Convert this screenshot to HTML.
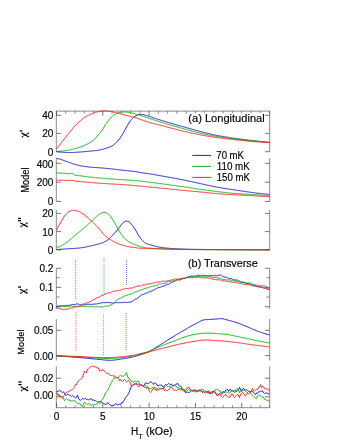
<!DOCTYPE html>
<html><head><meta charset="utf-8"><title>chart</title>
<style>html,body{margin:0;padding:0;background:#fff;}body{width:340px;height:440px;overflow:hidden;font-family:"Liberation Sans",sans-serif;}svg{display:block;position:absolute;left:0;top:0;}</style>
</head><body>
<svg width="340" height="440" viewBox="0 0 340 440">
<rect width="340" height="440" fill="#fff"/>
<path d="M56.40,111.05 L56.40,151.70 M269.60,111.05 L269.60,151.70 M56.40,158.30 L56.40,201.40 M269.60,158.30 L269.60,201.40 M56.40,210.00 L56.40,249.90 M269.60,210.00 L269.60,249.90 M56.40,268.30 L56.40,309.00 M269.60,268.30 L269.60,309.00 M56.40,318.90 L56.40,360.60 M269.60,318.90 L269.60,360.60 M56.40,366.30 L56.40,407.60 M269.60,366.30 L269.60,407.60 M55.80,111.05 L270.20,111.05 M55.80,407.60 L270.20,407.60" fill="none" stroke="#a2a2a2" stroke-width="1.3"/>
<path d="M56.40,115.30 L61.10,115.30 M269.60,115.30 L264.90,115.30 M56.40,133.40 L61.10,133.40 M269.60,133.40 L264.90,133.40 M56.40,151.70 L61.10,151.70 M269.60,151.70 L264.90,151.70 M56.40,163.30 L61.10,163.30 M269.60,163.30 L264.90,163.30 M56.40,182.20 L61.10,182.20 M269.60,182.20 L264.90,182.20 M56.40,201.40 L61.10,201.40 M269.60,201.40 L264.90,201.40 M56.40,213.40 L61.10,213.40 M269.60,213.40 L264.90,213.40 M56.40,231.60 L61.10,231.60 M269.60,231.60 L264.90,231.60 M56.40,249.90 L61.10,249.90 M269.60,249.90 L264.90,249.90 M56.40,268.30 L61.10,268.30 M269.60,268.30 L264.90,268.30 M56.40,287.40 L61.10,287.40 M269.60,287.40 L264.90,287.40 M56.40,306.70 L61.10,306.70 M269.60,306.70 L264.90,306.70 M56.40,330.30 L61.10,330.30 M269.60,330.30 L264.90,330.30 M56.40,355.60 L61.10,355.60 M269.60,355.60 L264.90,355.60 M56.40,378.20 L61.10,378.20 M269.60,378.20 L264.90,378.20 M56.40,396.80 L61.10,396.80 M269.60,396.80 L264.90,396.80 M56.50,111.05 L56.50,115.75 M56.50,407.60 L56.50,402.90 M102.80,111.05 L102.80,115.75 M102.80,407.60 L102.80,402.90 M149.11,111.05 L149.11,115.75 M149.11,407.60 L149.11,402.90 M195.41,111.05 L195.41,115.75 M195.41,407.60 L195.41,402.90 M241.72,111.05 L241.72,115.75 M241.72,407.60 L241.72,402.90" fill="none" stroke="#444" stroke-width="0.72"/>
<path d="M56.40,277.70 L59.70,277.70 M269.60,277.70 L266.30,277.70 M56.40,297.00 L59.70,297.00 M269.60,297.00 L266.30,297.00 M65.76,111.05 L65.76,113.75 M65.76,407.60 L65.76,405.30 M75.02,111.05 L75.02,113.75 M75.02,407.60 L75.02,405.30 M84.28,111.05 L84.28,113.75 M84.28,407.60 L84.28,405.30 M93.54,111.05 L93.54,113.75 M93.54,407.60 L93.54,405.30 M112.07,111.05 L112.07,113.75 M112.07,407.60 L112.07,405.30 M121.33,111.05 L121.33,113.75 M121.33,407.60 L121.33,405.30 M130.59,111.05 L130.59,113.75 M130.59,407.60 L130.59,405.30 M139.85,111.05 L139.85,113.75 M139.85,407.60 L139.85,405.30 M158.37,111.05 L158.37,113.75 M158.37,407.60 L158.37,405.30 M167.63,111.05 L167.63,113.75 M167.63,407.60 L167.63,405.30 M176.89,111.05 L176.89,113.75 M176.89,407.60 L176.89,405.30 M186.15,111.05 L186.15,113.75 M186.15,407.60 L186.15,405.30 M204.67,111.05 L204.67,113.75 M204.67,407.60 L204.67,405.30 M213.93,111.05 L213.93,113.75 M213.93,407.60 L213.93,405.30 M223.20,111.05 L223.20,113.75 M223.20,407.60 L223.20,405.30 M232.46,111.05 L232.46,113.75 M232.46,407.60 L232.46,405.30 M250.98,111.05 L250.98,113.75 M250.98,407.60 L250.98,405.30 M260.24,111.05 L260.24,113.75 M260.24,407.60 L260.24,405.30 M269.50,111.05 L269.50,113.75 M269.50,407.60 L269.50,405.30" fill="none" stroke="#555" stroke-width="0.7"/>
<rect x="187.6" y="113.1" width="77.3" height="11.4" fill="#fff"/>
<path d="M75.50,260.00 L75.50,299.00" stroke="#ff1c1c" stroke-width="0.85" stroke-opacity="0.8" stroke-dasharray="0.9 1.1" fill="none"/>
<path d="M104.00,258.00 L104.00,293.00" stroke="#0cae0c" stroke-width="0.85" stroke-opacity="0.8" stroke-dasharray="0.9 1.1" fill="none"/>
<path d="M126.50,260.00 L126.50,286.00" stroke="#1414cc" stroke-width="0.85" stroke-opacity="0.8" stroke-dasharray="0.9 1.1" fill="none"/>
<path d="M76.00,312.00 L76.00,352.00" stroke="#ff1c1c" stroke-width="0.85" stroke-opacity="0.8" stroke-dasharray="0.9 1.1" fill="none"/>
<path d="M103.50,314.00 L103.50,355.00" stroke="#0cae0c" stroke-width="0.85" stroke-opacity="0.8" stroke-dasharray="0.9 1.1" fill="none"/>
<path d="M126.00,313.00 L126.00,350.00" stroke="#1414cc" stroke-width="0.85" stroke-opacity="0.8" stroke-dasharray="0.9 1.1" fill="none"/>
<path d="M56.50,151.60 L57.50,151.69 L58.50,151.80 L59.50,151.90 L60.50,152.00 L61.50,152.10 L62.50,152.19 L63.50,152.27 L64.50,152.35 L65.50,152.41 L66.50,152.46 L67.50,152.49 L68.50,152.51 L69.50,152.51 L70.50,152.49 L71.50,152.47 L72.50,152.44 L73.50,152.40 L74.50,152.35 L75.50,152.30 L76.50,152.24 L77.50,152.18 L78.50,152.12 L79.50,152.05 L80.50,151.99 L81.50,151.91 L82.50,151.83 L83.50,151.75 L84.50,151.65 L85.50,151.56 L86.50,151.46 L87.50,151.36 L88.50,151.26 L89.50,151.16 L90.50,151.05 L91.50,150.95 L92.50,150.85 L93.50,150.76 L94.50,150.67 L95.50,150.60 L96.50,150.52 L97.50,150.38 L98.50,150.21 L99.50,150.01 L100.50,149.79 L101.50,149.55 L102.50,149.30 L103.50,149.03 L104.50,148.74 L105.50,148.44 L106.50,148.14 L107.50,147.81 L108.50,147.47 L109.50,147.10 L110.50,146.69 L111.50,146.20 L112.50,145.61 L113.50,144.91 L114.50,144.10 L115.50,143.23 L116.50,142.26 L117.50,141.21 L118.50,140.05 L119.50,138.80 L120.50,137.44 L121.50,135.97 L122.50,134.35 L123.50,132.56 L124.50,130.69 L125.50,128.85 L126.50,127.07 L127.50,125.32 L128.50,123.63 L129.50,122.05 L130.50,120.66 L131.50,119.45 L132.50,118.40 L133.50,117.45 L134.50,116.66 L135.50,116.06 L136.50,115.57 L137.50,115.12 L138.50,114.76 L139.50,114.52 L140.50,114.42 L141.50,114.44 L142.50,114.56 L143.50,114.75 L144.50,115.00 L145.50,115.28 L146.50,115.57 L147.50,115.87 L148.50,116.17 L149.50,116.47 L150.50,116.80 L151.50,117.14 L152.50,117.49 L153.50,117.83 L154.50,118.17 L155.50,118.51 L156.50,118.84 L157.50,119.17 L158.50,119.49 L159.50,119.81 L160.50,120.12 L161.50,120.43 L162.50,120.74 L163.50,121.04 L164.50,121.35 L165.50,121.65 L166.50,121.95 L167.50,122.25 L168.50,122.55 L169.50,122.85 L170.50,123.14 L171.50,123.43 L172.50,123.73 L173.50,124.02 L174.50,124.31 L175.50,124.59 L176.50,124.88 L177.50,125.17 L178.50,125.45 L179.50,125.73 L180.50,126.01 L181.50,126.29 L182.50,126.57 L183.50,126.85 L184.50,127.13 L185.50,127.41 L186.50,127.69 L187.50,127.96 L188.50,128.24 L189.50,128.52 L190.50,128.79 L191.50,129.07 L192.50,129.35 L193.50,129.62 L194.50,129.89 L195.50,130.17 L196.50,130.44 L197.50,130.71 L198.50,130.99 L199.50,131.26 L200.50,131.52 L201.50,131.79 L202.50,132.05 L203.50,132.31 L204.50,132.57 L205.50,132.83 L206.50,133.08 L207.50,133.32 L208.50,133.57 L209.50,133.80 L210.50,134.04 L211.50,134.27 L212.50,134.49 L213.50,134.71 L214.50,134.92 L215.50,135.13 L216.50,135.34 L217.50,135.54 L218.50,135.73 L219.50,135.92 L220.50,136.11 L221.50,136.29 L222.50,136.46 L223.50,136.63 L224.50,136.80 L225.50,136.97 L226.50,137.12 L227.50,137.28 L228.50,137.43 L229.50,137.58 L230.50,137.73 L231.50,137.87 L232.50,138.02 L233.50,138.16 L234.50,138.30 L235.50,138.44 L236.50,138.57 L237.50,138.71 L238.50,138.85 L239.50,138.98 L240.50,139.12 L241.50,139.25 L242.50,139.38 L243.50,139.52 L244.50,139.65 L245.50,139.78 L246.50,139.90 L247.50,140.03 L248.50,140.16 L249.50,140.28 L250.50,140.40 L251.50,140.52 L252.50,140.63 L253.50,140.75 L254.50,140.86 L255.50,140.97 L256.50,141.08 L257.50,141.18 L258.50,141.29 L259.50,141.39 L260.50,141.49 L261.50,141.59 L262.50,141.70 L263.50,141.80 L264.50,141.90 L265.50,142.01 L266.50,142.11 L267.50,142.22 L268.50,142.33 L269.50,142.44" fill="none" stroke="#1414cc" stroke-width="0.95" stroke-linejoin="round"/>
<path d="M56.50,151.60 L57.50,151.50 L58.50,151.40 L59.50,151.31 L60.50,151.21 L61.50,151.11 L62.50,151.01 L63.50,150.91 L64.50,150.80 L65.50,150.69 L66.50,150.57 L67.50,150.43 L68.50,150.27 L69.50,150.08 L70.50,149.86 L71.50,149.60 L72.50,149.32 L73.50,149.04 L74.50,148.76 L75.50,148.49 L76.50,148.21 L77.50,147.91 L78.50,147.61 L79.50,147.28 L80.50,146.93 L81.50,146.56 L82.50,146.18 L83.50,145.79 L84.50,145.37 L85.50,144.92 L86.50,144.45 L87.50,143.96 L88.50,143.46 L89.50,142.94 L90.50,142.38 L91.50,141.77 L92.50,141.08 L93.50,140.26 L94.50,139.28 L95.50,138.18 L96.50,136.99 L97.50,135.78 L98.50,134.65 L99.50,133.56 L100.50,132.44 L101.50,131.19 L102.50,129.72 L103.50,128.04 L104.50,126.30 L105.50,124.66 L106.50,123.18 L107.50,121.79 L108.50,120.49 L109.50,119.29 L110.50,118.17 L111.50,117.13 L112.50,116.20 L113.50,115.38 L114.50,114.67 L115.50,114.06 L116.50,113.54 L117.50,113.09 L118.50,112.73 L119.50,112.45 L120.50,112.25 L121.50,112.11 L122.50,112.02 L123.50,111.97 L124.50,111.96 L125.50,111.99 L126.50,112.06 L127.50,112.18 L128.50,112.33 L129.50,112.52 L130.50,112.72 L131.50,112.93 L132.50,113.16 L133.50,113.42 L134.50,113.69 L135.50,113.96 L136.50,114.24 L137.50,114.53 L138.50,114.82 L139.50,115.13 L140.50,115.44 L141.50,115.76 L142.50,116.08 L143.50,116.41 L144.50,116.74 L145.50,117.07 L146.50,117.40 L147.50,117.73 L148.50,118.07 L149.50,118.40 L150.50,118.74 L151.50,119.08 L152.50,119.41 L153.50,119.75 L154.50,120.08 L155.50,120.42 L156.50,120.74 L157.50,121.07 L158.50,121.39 L159.50,121.71 L160.50,122.02 L161.50,122.33 L162.50,122.64 L163.50,122.95 L164.50,123.25 L165.50,123.55 L166.50,123.86 L167.50,124.15 L168.50,124.45 L169.50,124.75 L170.50,125.04 L171.50,125.34 L172.50,125.63 L173.50,125.92 L174.50,126.21 L175.50,126.50 L176.50,126.78 L177.50,127.06 L178.50,127.35 L179.50,127.63 L180.50,127.91 L181.50,128.19 L182.50,128.46 L183.50,128.74 L184.50,129.02 L185.50,129.29 L186.50,129.56 L187.50,129.83 L188.50,130.10 L189.50,130.37 L190.50,130.63 L191.50,130.90 L192.50,131.16 L193.50,131.41 L194.50,131.67 L195.50,131.93 L196.50,132.18 L197.50,132.42 L198.50,132.67 L199.50,132.91 L200.50,133.15 L201.50,133.38 L202.50,133.61 L203.50,133.84 L204.50,134.07 L205.50,134.28 L206.50,134.50 L207.50,134.71 L208.50,134.92 L209.50,135.12 L210.50,135.32 L211.50,135.51 L212.50,135.70 L213.50,135.88 L214.50,136.06 L215.50,136.24 L216.50,136.41 L217.50,136.58 L218.50,136.74 L219.50,136.90 L220.50,137.05 L221.50,137.21 L222.50,137.35 L223.50,137.50 L224.50,137.64 L225.50,137.78 L226.50,137.91 L227.50,138.05 L228.50,138.18 L229.50,138.31 L230.50,138.44 L231.50,138.56 L232.50,138.69 L233.50,138.81 L234.50,138.94 L235.50,139.06 L236.50,139.18 L237.50,139.30 L238.50,139.41 L239.50,139.53 L240.50,139.64 L241.50,139.76 L242.50,139.87 L243.50,139.97 L244.50,140.08 L245.50,140.19 L246.50,140.29 L247.50,140.39 L248.50,140.49 L249.50,140.59 L250.50,140.68 L251.50,140.78 L252.50,140.87 L253.50,140.96 L254.50,141.05 L255.50,141.14 L256.50,141.23 L257.50,141.31 L258.50,141.40 L259.50,141.49 L260.50,141.58 L261.50,141.67 L262.50,141.76 L263.50,141.86 L264.50,141.95 L265.50,142.05 L266.50,142.15 L267.50,142.26 L268.50,142.36 L269.50,142.47" fill="none" stroke="#0cae0c" stroke-width="0.95" stroke-linejoin="round"/>
<path d="M56.50,148.50 L57.50,147.33 L58.50,146.16 L59.50,144.98 L60.50,143.78 L61.50,142.55 L62.50,141.28 L63.50,139.99 L64.50,138.70 L65.50,137.40 L66.50,136.12 L67.50,134.85 L68.50,133.60 L69.50,132.36 L70.50,131.12 L71.50,129.90 L72.50,128.71 L73.50,127.56 L74.50,126.45 L75.50,125.37 L76.50,124.32 L77.50,123.31 L78.50,122.33 L79.50,121.41 L80.50,120.53 L81.50,119.71 L82.50,118.93 L83.50,118.20 L84.50,117.51 L85.50,116.87 L86.50,116.26 L87.50,115.70 L88.50,115.20 L89.50,114.74 L90.50,114.31 L91.50,113.90 L92.50,113.50 L93.50,113.10 L94.50,112.72 L95.50,112.37 L96.50,112.07 L97.50,111.82 L98.50,111.60 L99.50,111.41 L100.50,111.24 L101.50,111.11 L102.50,111.00 L103.50,110.93 L104.50,110.90 L105.50,110.92 L106.50,110.97 L107.50,111.06 L108.50,111.17 L109.50,111.31 L110.50,111.47 L111.50,111.65 L112.50,111.86 L113.50,112.10 L114.50,112.35 L115.50,112.62 L116.50,112.87 L117.50,113.12 L118.50,113.37 L119.50,113.63 L120.50,113.88 L121.50,114.14 L122.50,114.40 L123.50,114.65 L124.50,114.90 L125.50,115.16 L126.50,115.41 L127.50,115.66 L128.50,115.92 L129.50,116.17 L130.50,116.43 L131.50,116.69 L132.50,116.95 L133.50,117.21 L134.50,117.47 L135.50,117.76 L136.50,118.05 L137.50,118.38 L138.50,118.72 L139.50,119.08 L140.50,119.43 L141.50,119.78 L142.50,120.13 L143.50,120.50 L144.50,120.86 L145.50,121.21 L146.50,121.55 L147.50,121.87 L148.50,122.17 L149.50,122.45 L150.50,122.72 L151.50,122.97 L152.50,123.22 L153.50,123.46 L154.50,123.71 L155.50,123.96 L156.50,124.21 L157.50,124.47 L158.50,124.72 L159.50,124.99 L160.50,125.25 L161.50,125.52 L162.50,125.79 L163.50,126.05 L164.50,126.32 L165.50,126.59 L166.50,126.86 L167.50,127.12 L168.50,127.39 L169.50,127.65 L170.50,127.92 L171.50,128.18 L172.50,128.44 L173.50,128.70 L174.50,128.96 L175.50,129.22 L176.50,129.48 L177.50,129.73 L178.50,129.98 L179.50,130.23 L180.50,130.48 L181.50,130.73 L182.50,130.97 L183.50,131.21 L184.50,131.45 L185.50,131.68 L186.50,131.92 L187.50,132.15 L188.50,132.37 L189.50,132.60 L190.50,132.82 L191.50,133.04 L192.50,133.25 L193.50,133.46 L194.50,133.67 L195.50,133.88 L196.50,134.08 L197.50,134.28 L198.50,134.48 L199.50,134.68 L200.50,134.87 L201.50,135.06 L202.50,135.24 L203.50,135.43 L204.50,135.61 L205.50,135.78 L206.50,135.96 L207.50,136.13 L208.50,136.30 L209.50,136.47 L210.50,136.63 L211.50,136.79 L212.50,136.95 L213.50,137.10 L214.50,137.25 L215.50,137.40 L216.50,137.55 L217.50,137.69 L218.50,137.83 L219.50,137.96 L220.50,138.09 L221.50,138.22 L222.50,138.35 L223.50,138.48 L224.50,138.60 L225.50,138.72 L226.50,138.83 L227.50,138.95 L228.50,139.06 L229.50,139.18 L230.50,139.29 L231.50,139.40 L232.50,139.51 L233.50,139.62 L234.50,139.72 L235.50,139.83 L236.50,139.94 L237.50,140.04 L238.50,140.15 L239.50,140.25 L240.50,140.35 L241.50,140.45 L242.50,140.55 L243.50,140.65 L244.50,140.75 L245.50,140.84 L246.50,140.93 L247.50,141.03 L248.50,141.11 L249.50,141.20 L250.50,141.28 L251.50,141.37 L252.50,141.45 L253.50,141.52 L254.50,141.60 L255.50,141.67 L256.50,141.75 L257.50,141.82 L258.50,141.89 L259.50,141.95 L260.50,142.02 L261.50,142.09 L262.50,142.15 L263.50,142.22 L264.50,142.28 L265.50,142.35 L266.50,142.41 L267.50,142.48 L268.50,142.55 L269.50,142.61" fill="none" stroke="#ff1c1c" stroke-width="0.95" stroke-linejoin="round"/>
<path d="M56.50,158.30 L57.50,158.55 L58.50,158.81 L59.50,159.07 L60.50,159.36 L61.50,159.67 L62.50,160.01 L63.50,160.36 L64.50,160.73 L65.50,161.10 L66.50,161.47 L67.50,161.83 L68.50,162.19 L69.50,162.55 L70.50,162.91 L71.50,163.27 L72.50,163.62 L73.50,163.94 L74.50,164.25 L75.50,164.53 L76.50,164.81 L77.50,165.06 L78.50,165.30 L79.50,165.53 L80.50,165.74 L81.50,165.93 L82.50,166.10 L83.50,166.26 L84.50,166.41 L85.50,166.55 L86.50,166.69 L87.50,166.82 L88.50,166.94 L89.50,167.05 L90.50,167.16 L91.50,167.26 L92.50,167.35 L93.50,167.44 L94.50,167.50 L95.50,167.54 L96.50,167.59 L97.50,167.66 L98.50,167.74 L99.50,167.82 L100.50,167.90 L101.50,167.98 L102.50,168.06 L103.50,168.14 L104.50,168.23 L105.50,168.31 L106.50,168.40 L107.50,168.49 L108.50,168.58 L109.50,168.68 L110.50,168.78 L111.50,168.88 L112.50,168.99 L113.50,169.11 L114.50,169.23 L115.50,169.35 L116.50,169.47 L117.50,169.59 L118.50,169.72 L119.50,169.84 L120.50,169.97 L121.50,170.09 L122.50,170.21 L123.50,170.32 L124.50,170.43 L125.50,170.54 L126.50,170.65 L127.50,170.76 L128.50,170.87 L129.50,170.97 L130.50,171.08 L131.50,171.18 L132.50,171.29 L133.50,171.40 L134.50,171.52 L135.50,171.64 L136.50,171.77 L137.50,171.92 L138.50,172.12 L139.50,172.34 L140.50,172.52 L141.50,172.68 L142.50,172.83 L143.50,172.98 L144.50,173.12 L145.50,173.26 L146.50,173.41 L147.50,173.55 L148.50,173.70 L149.50,173.85 L150.50,174.00 L151.50,174.15 L152.50,174.31 L153.50,174.48 L154.50,174.65 L155.50,174.83 L156.50,175.01 L157.50,175.19 L158.50,175.37 L159.50,175.55 L160.50,175.73 L161.50,175.92 L162.50,176.10 L163.50,176.28 L164.50,176.46 L165.50,176.64 L166.50,176.82 L167.50,176.99 L168.50,177.17 L169.50,177.35 L170.50,177.52 L171.50,177.70 L172.50,177.88 L173.50,178.06 L174.50,178.24 L175.50,178.43 L176.50,178.61 L177.50,178.80 L178.50,178.98 L179.50,179.17 L180.50,179.36 L181.50,179.56 L182.50,179.75 L183.50,179.95 L184.50,180.15 L185.50,180.35 L186.50,180.56 L187.50,180.77 L188.50,180.97 L189.50,181.19 L190.50,181.40 L191.50,181.61 L192.50,181.83 L193.50,182.05 L194.50,182.27 L195.50,182.49 L196.50,182.72 L197.50,182.94 L198.50,183.17 L199.50,183.40 L200.50,183.63 L201.50,183.85 L202.50,184.08 L203.50,184.31 L204.50,184.53 L205.50,184.76 L206.50,184.98 L207.50,185.20 L208.50,185.42 L209.50,185.63 L210.50,185.84 L211.50,186.05 L212.50,186.25 L213.50,186.45 L214.50,186.64 L215.50,186.84 L216.50,187.02 L217.50,187.21 L218.50,187.39 L219.50,187.56 L220.50,187.74 L221.50,187.91 L222.50,188.07 L223.50,188.24 L224.50,188.40 L225.50,188.56 L226.50,188.71 L227.50,188.87 L228.50,189.02 L229.50,189.17 L230.50,189.32 L231.50,189.48 L232.50,189.63 L233.50,189.78 L234.50,189.93 L235.50,190.08 L236.50,190.23 L237.50,190.38 L238.50,190.53 L239.50,190.68 L240.50,190.83 L241.50,190.98 L242.50,191.13 L243.50,191.27 L244.50,191.42 L245.50,191.57 L246.50,191.72 L247.50,191.86 L248.50,192.00 L249.50,192.14 L250.50,192.28 L251.50,192.42 L252.50,192.55 L253.50,192.69 L254.50,192.82 L255.50,192.94 L256.50,193.07 L257.50,193.19 L258.50,193.31 L259.50,193.42 L260.50,193.54 L261.50,193.65 L262.50,193.76 L263.50,193.86 L264.50,193.97 L265.50,194.07 L266.50,194.16 L267.50,194.26 L268.50,194.35 L269.50,194.44" fill="none" stroke="#1414cc" stroke-width="0.95" stroke-linejoin="round"/>
<path d="M56.50,172.90 L57.50,172.95 L58.50,173.00 L59.50,173.05 L60.50,173.10 L61.50,173.15 L62.50,173.20 L63.50,173.26 L64.50,173.31 L65.50,173.36 L66.50,173.42 L67.50,173.49 L68.50,173.60 L69.50,173.79 L70.50,173.71 L71.50,173.20 L72.50,173.22 L73.50,174.00 L74.50,174.77 L75.50,175.25 L76.50,175.46 L77.50,175.57 L78.50,175.64 L79.50,175.71 L80.50,175.83 L81.50,175.97 L82.50,176.12 L83.50,176.27 L84.50,176.42 L85.50,176.56 L86.50,176.69 L87.50,176.80 L88.50,176.90 L89.50,176.99 L90.50,177.07 L91.50,177.16 L92.50,177.25 L93.50,177.36 L94.50,177.49 L95.50,177.63 L96.50,177.75 L97.50,177.85 L98.50,177.94 L99.50,178.03 L100.50,178.11 L101.50,178.19 L102.50,178.27 L103.50,178.35 L104.50,178.43 L105.50,178.51 L106.50,178.58 L107.50,178.66 L108.50,178.73 L109.50,178.81 L110.50,178.88 L111.50,178.96 L112.50,179.03 L113.50,179.11 L114.50,179.18 L115.50,179.25 L116.50,179.33 L117.50,179.40 L118.50,179.47 L119.50,179.54 L120.50,179.61 L121.50,179.68 L122.50,179.75 L123.50,179.81 L124.50,179.88 L125.50,179.94 L126.50,180.00 L127.50,180.07 L128.50,180.13 L129.50,180.19 L130.50,180.25 L131.50,180.31 L132.50,180.37 L133.50,180.43 L134.50,180.50 L135.50,180.56 L136.50,180.64 L137.50,180.71 L138.50,180.80 L139.50,180.92 L140.50,181.04 L141.50,181.16 L142.50,181.28 L143.50,181.40 L144.50,181.53 L145.50,181.65 L146.50,181.78 L147.50,181.90 L148.50,182.03 L149.50,182.16 L150.50,182.29 L151.50,182.42 L152.50,182.55 L153.50,182.68 L154.50,182.81 L155.50,182.94 L156.50,183.07 L157.50,183.21 L158.50,183.34 L159.50,183.48 L160.50,183.61 L161.50,183.75 L162.50,183.89 L163.50,184.02 L164.50,184.16 L165.50,184.30 L166.50,184.44 L167.50,184.58 L168.50,184.72 L169.50,184.86 L170.50,185.00 L171.50,185.13 L172.50,185.27 L173.50,185.41 L174.50,185.55 L175.50,185.69 L176.50,185.83 L177.50,185.97 L178.50,186.11 L179.50,186.24 L180.50,186.38 L181.50,186.52 L182.50,186.67 L183.50,186.81 L184.50,186.95 L185.50,187.10 L186.50,187.24 L187.50,187.39 L188.50,187.54 L189.50,187.69 L190.50,187.84 L191.50,187.99 L192.50,188.14 L193.50,188.29 L194.50,188.44 L195.50,188.59 L196.50,188.74 L197.50,188.89 L198.50,189.04 L199.50,189.18 L200.50,189.33 L201.50,189.48 L202.50,189.62 L203.50,189.76 L204.50,189.90 L205.50,190.04 L206.50,190.18 L207.50,190.32 L208.50,190.46 L209.50,190.59 L210.50,190.73 L211.50,190.86 L212.50,190.99 L213.50,191.12 L214.50,191.25 L215.50,191.38 L216.50,191.51 L217.50,191.63 L218.50,191.76 L219.50,191.88 L220.50,192.00 L221.50,192.13 L222.50,192.24 L223.50,192.36 L224.50,192.47 L225.50,192.58 L226.50,192.69 L227.50,192.79 L228.50,192.89 L229.50,192.98 L230.50,193.07 L231.50,193.16 L232.50,193.24 L233.50,193.33 L234.50,193.40 L235.50,193.48 L236.50,193.55 L237.50,193.62 L238.50,193.69 L239.50,193.75 L240.50,193.82 L241.50,193.88 L242.50,193.94 L243.50,194.00 L244.50,194.06 L245.50,194.12 L246.50,194.18 L247.50,194.24 L248.50,194.30 L249.50,194.36 L250.50,194.42 L251.50,194.49 L252.50,194.55 L253.50,194.61 L254.50,194.68 L255.50,194.75 L256.50,194.81 L257.50,194.88 L258.50,194.95 L259.50,195.03 L260.50,195.10 L261.50,195.18 L262.50,195.25 L263.50,195.33 L264.50,195.41 L265.50,195.49 L266.50,195.58 L267.50,195.66 L268.50,195.75 L269.50,195.84" fill="none" stroke="#0cae0c" stroke-width="0.95" stroke-linejoin="round"/>
<path d="M56.50,180.20 L57.50,180.21 L58.50,180.23 L59.50,180.24 L60.50,180.25 L61.50,180.26 L62.50,180.27 L63.50,180.29 L64.50,180.30 L65.50,180.31 L66.50,180.32 L67.50,180.34 L68.50,180.36 L69.50,180.37 L70.50,180.39 L71.50,180.42 L72.50,180.44 L73.50,180.48 L74.50,180.65 L75.50,181.22 L76.50,181.33 L77.50,181.42 L78.50,181.50 L79.50,181.57 L80.50,181.64 L81.50,181.72 L82.50,181.79 L83.50,181.86 L84.50,181.93 L85.50,182.01 L86.50,182.09 L87.50,182.18 L88.50,182.27 L89.50,182.36 L90.50,182.45 L91.50,182.54 L92.50,182.63 L93.50,182.72 L94.50,182.81 L95.50,182.90 L96.50,182.98 L97.50,183.06 L98.50,183.14 L99.50,183.21 L100.50,183.28 L101.50,183.34 L102.50,183.41 L103.50,183.47 L104.50,183.53 L105.50,183.59 L106.50,183.65 L107.50,183.71 L108.50,183.77 L109.50,183.83 L110.50,183.89 L111.50,183.95 L112.50,184.00 L113.50,184.05 L114.50,184.11 L115.50,184.16 L116.50,184.21 L117.50,184.26 L118.50,184.31 L119.50,184.36 L120.50,184.42 L121.50,184.48 L122.50,184.55 L123.50,184.61 L124.50,184.69 L125.50,184.77 L126.50,184.85 L127.50,184.93 L128.50,185.02 L129.50,185.11 L130.50,185.20 L131.50,185.29 L132.50,185.38 L133.50,185.47 L134.50,185.56 L135.50,185.65 L136.50,185.75 L137.50,185.84 L138.50,185.94 L139.50,186.05 L140.50,186.15 L141.50,186.25 L142.50,186.34 L143.50,186.44 L144.50,186.53 L145.50,186.62 L146.50,186.72 L147.50,186.81 L148.50,186.90 L149.50,187.00 L150.50,187.09 L151.50,187.19 L152.50,187.28 L153.50,187.38 L154.50,187.48 L155.50,187.59 L156.50,187.69 L157.50,187.79 L158.50,187.89 L159.50,188.00 L160.50,188.10 L161.50,188.20 L162.50,188.31 L163.50,188.41 L164.50,188.51 L165.50,188.62 L166.50,188.72 L167.50,188.82 L168.50,188.92 L169.50,189.03 L170.50,189.13 L171.50,189.23 L172.50,189.33 L173.50,189.43 L174.50,189.53 L175.50,189.63 L176.50,189.73 L177.50,189.83 L178.50,189.93 L179.50,190.03 L180.50,190.13 L181.50,190.22 L182.50,190.32 L183.50,190.41 L184.50,190.51 L185.50,190.60 L186.50,190.69 L187.50,190.79 L188.50,190.88 L189.50,190.97 L190.50,191.06 L191.50,191.15 L192.50,191.24 L193.50,191.34 L194.50,191.43 L195.50,191.52 L196.50,191.62 L197.50,191.71 L198.50,191.81 L199.50,191.91 L200.50,192.01 L201.50,192.10 L202.50,192.20 L203.50,192.30 L204.50,192.40 L205.50,192.50 L206.50,192.60 L207.50,192.70 L208.50,192.80 L209.50,192.90 L210.50,193.00 L211.50,193.09 L212.50,193.19 L213.50,193.29 L214.50,193.38 L215.50,193.47 L216.50,193.56 L217.50,193.65 L218.50,193.74 L219.50,193.83 L220.50,193.91 L221.50,193.99 L222.50,194.07 L223.50,194.14 L224.50,194.22 L225.50,194.29 L226.50,194.35 L227.50,194.41 L228.50,194.47 L229.50,194.53 L230.50,194.59 L231.50,194.64 L232.50,194.69 L233.50,194.74 L234.50,194.79 L235.50,194.84 L236.50,194.88 L237.50,194.93 L238.50,194.98 L239.50,195.03 L240.50,195.08 L241.50,195.12 L242.50,195.17 L243.50,195.22 L244.50,195.28 L245.50,195.33 L246.50,195.38 L247.50,195.43 L248.50,195.48 L249.50,195.53 L250.50,195.59 L251.50,195.64 L252.50,195.69 L253.50,195.74 L254.50,195.80 L255.50,195.85 L256.50,195.90 L257.50,195.96 L258.50,196.01 L259.50,196.07 L260.50,196.13 L261.50,196.19 L262.50,196.25 L263.50,196.32 L264.50,196.39 L265.50,196.46 L266.50,196.54 L267.50,196.62 L268.50,196.70 L269.50,196.79" fill="none" stroke="#ff1c1c" stroke-width="0.95" stroke-linejoin="round"/>
<path d="M56.50,249.60 L57.50,249.53 L58.50,249.46 L59.50,249.39 L60.50,249.31 L61.50,249.24 L62.50,249.17 L63.50,249.10 L64.50,249.03 L65.50,248.96 L66.50,248.89 L67.50,248.81 L68.50,248.75 L69.50,248.68 L70.50,248.62 L71.50,248.57 L72.50,248.51 L73.50,248.45 L74.50,248.39 L75.50,248.33 L76.50,248.26 L77.50,248.18 L78.50,248.09 L79.50,247.99 L80.50,247.87 L81.50,247.74 L82.50,247.59 L83.50,247.42 L84.50,247.24 L85.50,247.04 L86.50,246.84 L87.50,246.63 L88.50,246.41 L89.50,246.20 L90.50,245.98 L91.50,245.76 L92.50,245.53 L93.50,245.28 L94.50,245.03 L95.50,244.78 L96.50,244.51 L97.50,244.24 L98.50,243.96 L99.50,243.69 L100.50,243.42 L101.50,243.11 L102.50,242.74 L103.50,242.32 L104.50,241.87 L105.50,241.37 L106.50,240.80 L107.50,240.14 L108.50,239.36 L109.50,238.47 L110.50,237.48 L111.50,236.43 L112.50,235.35 L113.50,234.28 L114.50,233.21 L115.50,232.12 L116.50,231.00 L117.50,229.85 L118.50,228.64 L119.50,227.32 L120.50,225.91 L121.50,224.54 L122.50,223.38 L123.50,222.45 L124.50,221.76 L125.50,221.28 L126.50,221.11 L127.50,221.20 L128.50,221.52 L129.50,222.13 L130.50,223.09 L131.50,224.29 L132.50,225.60 L133.50,226.97 L134.50,228.44 L135.50,230.00 L136.50,231.68 L137.50,233.51 L138.50,235.30 L139.50,236.84 L140.50,238.24 L141.50,239.50 L142.50,240.61 L143.50,241.60 L144.50,242.53 L145.50,243.22 L146.50,243.69 L147.50,244.02 L148.50,244.29 L149.50,244.55 L150.50,244.80 L151.50,245.08 L152.50,245.40 L153.50,245.73 L154.50,246.05 L155.50,246.35 L156.50,246.60 L157.50,246.82 L158.50,247.01 L159.50,247.19 L160.50,247.36 L161.50,247.51 L162.50,247.65 L163.50,247.78 L164.50,247.90 L165.50,248.01 L166.50,248.10 L167.50,248.19 L168.50,248.28 L169.50,248.36 L170.50,248.44 L171.50,248.51 L172.50,248.59 L173.50,248.65 L174.50,248.71 L175.50,248.77 L176.50,248.83 L177.50,248.88 L178.50,248.92 L179.50,248.97 L180.50,249.01 L181.50,249.05 L182.50,249.08 L183.50,249.12 L184.50,249.15 L185.50,249.17 L186.50,249.20 L187.50,249.22 L188.50,249.25 L189.50,249.27 L190.50,249.28 L191.50,249.30 L192.50,249.32 L193.50,249.33 L194.50,249.35 L195.50,249.36 L196.50,249.37 L197.50,249.39 L198.50,249.40 L199.50,249.41 L200.50,249.42 L201.50,249.43 L202.50,249.44 L203.50,249.45 L204.50,249.46 L205.50,249.47 L206.50,249.48 L207.50,249.49 L208.50,249.50 L209.50,249.51 L210.50,249.52 L211.50,249.53 L212.50,249.54 L213.50,249.55 L214.50,249.55 L215.50,249.56 L216.50,249.57 L217.50,249.58 L218.50,249.58 L219.50,249.59 L220.50,249.60 L221.50,249.60 L222.50,249.61 L223.50,249.62 L224.50,249.62 L225.50,249.63 L226.50,249.63 L227.50,249.64 L228.50,249.65 L229.50,249.65 L230.50,249.66 L231.50,249.66 L232.50,249.67 L233.50,249.67 L234.50,249.67 L235.50,249.68 L236.50,249.68 L237.50,249.69 L238.50,249.69 L239.50,249.70 L240.50,249.70 L241.50,249.70 L242.50,249.71 L243.50,249.71 L244.50,249.71 L245.50,249.72 L246.50,249.72 L247.50,249.73 L248.50,249.73 L249.50,249.73 L250.50,249.74 L251.50,249.74 L252.50,249.74 L253.50,249.75 L254.50,249.75 L255.50,249.75 L256.50,249.76 L257.50,249.76 L258.50,249.76 L259.50,249.77 L260.50,249.77 L261.50,249.77 L262.50,249.78 L263.50,249.78 L264.50,249.78 L265.50,249.79 L266.50,249.79 L267.50,249.79 L268.50,249.80 L269.50,249.80" fill="none" stroke="#1414cc" stroke-width="0.95" stroke-linejoin="round"/>
<path d="M56.50,247.60 L57.50,247.28 L58.50,246.96 L59.50,246.60 L60.50,246.18 L61.50,245.69 L62.50,245.12 L63.50,244.51 L64.50,243.86 L65.50,243.19 L66.50,242.48 L67.50,241.75 L68.50,240.97 L69.50,240.14 L70.50,239.27 L71.50,238.38 L72.50,237.49 L73.50,236.63 L74.50,235.79 L75.50,234.97 L76.50,234.16 L77.50,233.36 L78.50,232.56 L79.50,231.75 L80.50,230.94 L81.50,230.11 L82.50,229.29 L83.50,228.46 L84.50,227.63 L85.50,226.77 L86.50,225.89 L87.50,224.98 L88.50,224.03 L89.50,223.07 L90.50,222.10 L91.50,221.13 L92.50,220.17 L93.50,219.23 L94.50,218.31 L95.50,217.38 L96.50,216.48 L97.50,215.62 L98.50,214.81 L99.50,214.08 L100.50,213.46 L101.50,212.96 L102.50,212.54 L103.50,212.25 L104.50,212.23 L105.50,212.42 L106.50,212.81 L107.50,213.40 L108.50,214.22 L109.50,215.24 L110.50,216.45 L111.50,217.82 L112.50,219.32 L113.50,220.93 L114.50,222.60 L115.50,224.39 L116.50,226.29 L117.50,228.17 L118.50,229.93 L119.50,231.58 L120.50,233.15 L121.50,234.61 L122.50,235.94 L123.50,237.17 L124.50,238.27 L125.50,239.22 L126.50,240.07 L127.50,240.81 L128.50,241.48 L129.50,242.10 L130.50,242.68 L131.50,243.20 L132.50,243.66 L133.50,244.07 L134.50,244.45 L135.50,244.82 L136.50,245.19 L137.50,245.55 L138.50,245.90 L139.50,246.23 L140.50,246.55 L141.50,246.85 L142.50,247.13 L143.50,247.37 L144.50,247.55 L145.50,247.70 L146.50,247.81 L147.50,247.91 L148.50,247.99 L149.50,248.07 L150.50,248.15 L151.50,248.22 L152.50,248.30 L153.50,248.39 L154.50,248.47 L155.50,248.54 L156.50,248.59 L157.50,248.65 L158.50,248.69 L159.50,248.73 L160.50,248.77 L161.50,248.81 L162.50,248.85 L163.50,248.89 L164.50,248.92 L165.50,248.95 L166.50,248.98 L167.50,249.01 L168.50,249.04 L169.50,249.07 L170.50,249.10 L171.50,249.13 L172.50,249.15 L173.50,249.18 L174.50,249.20 L175.50,249.22 L176.50,249.24 L177.50,249.27 L178.50,249.29 L179.50,249.31 L180.50,249.32 L181.50,249.34 L182.50,249.36 L183.50,249.38 L184.50,249.39 L185.50,249.41 L186.50,249.42 L187.50,249.44 L188.50,249.45 L189.50,249.46 L190.50,249.47 L191.50,249.49 L192.50,249.50 L193.50,249.51 L194.50,249.52 L195.50,249.53 L196.50,249.54 L197.50,249.55 L198.50,249.56 L199.50,249.57 L200.50,249.58 L201.50,249.58 L202.50,249.59 L203.50,249.60 L204.50,249.61 L205.50,249.61 L206.50,249.62 L207.50,249.63 L208.50,249.63 L209.50,249.64 L210.50,249.65 L211.50,249.65 L212.50,249.66 L213.50,249.66 L214.50,249.67 L215.50,249.67 L216.50,249.68 L217.50,249.68 L218.50,249.69 L219.50,249.69 L220.50,249.70 L221.50,249.70 L222.50,249.71 L223.50,249.71 L224.50,249.71 L225.50,249.72 L226.50,249.72 L227.50,249.72 L228.50,249.73 L229.50,249.73 L230.50,249.73 L231.50,249.74 L232.50,249.74 L233.50,249.74 L234.50,249.74 L235.50,249.75 L236.50,249.75 L237.50,249.75 L238.50,249.75 L239.50,249.75 L240.50,249.76 L241.50,249.76 L242.50,249.76 L243.50,249.76 L244.50,249.76 L245.50,249.77 L246.50,249.77 L247.50,249.77 L248.50,249.77 L249.50,249.77 L250.50,249.77 L251.50,249.77 L252.50,249.78 L253.50,249.78 L254.50,249.78 L255.50,249.78 L256.50,249.78 L257.50,249.78 L258.50,249.78 L259.50,249.79 L260.50,249.79 L261.50,249.79 L262.50,249.79 L263.50,249.79 L264.50,249.79 L265.50,249.79 L266.50,249.80 L267.50,249.80 L268.50,249.80 L269.50,249.80" fill="none" stroke="#0cae0c" stroke-width="0.95" stroke-linejoin="round"/>
<path d="M56.50,230.20 L57.50,228.25 L58.50,226.31 L59.50,224.41 L60.50,222.58 L61.50,220.80 L62.50,219.09 L63.50,217.51 L64.50,216.08 L65.50,214.79 L66.50,213.65 L67.50,212.68 L68.50,211.94 L69.50,211.39 L70.50,210.96 L71.50,210.60 L72.50,210.33 L73.50,210.28 L74.50,210.33 L75.50,210.43 L76.50,210.61 L77.50,210.90 L78.50,211.31 L79.50,211.81 L80.50,212.37 L81.50,212.97 L82.50,213.61 L83.50,214.27 L84.50,214.95 L85.50,215.68 L86.50,216.45 L87.50,217.26 L88.50,218.14 L89.50,219.09 L90.50,220.08 L91.50,221.10 L92.50,222.11 L93.50,223.08 L94.50,224.02 L95.50,224.94 L96.50,225.89 L97.50,226.88 L98.50,227.98 L99.50,229.19 L100.50,230.48 L101.50,231.73 L102.50,232.92 L103.50,234.09 L104.50,235.17 L105.50,236.11 L106.50,236.92 L107.50,237.64 L108.50,238.31 L109.50,238.95 L110.50,239.58 L111.50,240.20 L112.50,240.82 L113.50,241.42 L114.50,242.00 L115.50,242.55 L116.50,243.06 L117.50,243.51 L118.50,243.91 L119.50,244.27 L120.50,244.59 L121.50,244.89 L122.50,245.17 L123.50,245.46 L124.50,245.73 L125.50,246.00 L126.50,246.24 L127.50,246.47 L128.50,246.69 L129.50,246.88 L130.50,247.05 L131.50,247.19 L132.50,247.31 L133.50,247.42 L134.50,247.53 L135.50,247.64 L136.50,247.77 L137.50,247.92 L138.50,248.08 L139.50,248.19 L140.50,248.27 L141.50,248.33 L142.50,248.37 L143.50,248.41 L144.50,248.45 L145.50,248.48 L146.50,248.51 L147.50,248.53 L148.50,248.56 L149.50,248.59 L150.50,248.61 L151.50,248.64 L152.50,248.67 L153.50,248.69 L154.50,248.72 L155.50,248.75 L156.50,248.78 L157.50,248.81 L158.50,248.84 L159.50,248.87 L160.50,248.90 L161.50,248.93 L162.50,248.96 L163.50,248.99 L164.50,249.02 L165.50,249.05 L166.50,249.08 L167.50,249.11 L168.50,249.13 L169.50,249.16 L170.50,249.19 L171.50,249.21 L172.50,249.24 L173.50,249.26 L174.50,249.29 L175.50,249.31 L176.50,249.33 L177.50,249.35 L178.50,249.38 L179.50,249.40 L180.50,249.42 L181.50,249.43 L182.50,249.45 L183.50,249.47 L184.50,249.48 L185.50,249.50 L186.50,249.51 L187.50,249.53 L188.50,249.54 L189.50,249.55 L190.50,249.56 L191.50,249.57 L192.50,249.58 L193.50,249.59 L194.50,249.60 L195.50,249.60 L196.50,249.61 L197.50,249.62 L198.50,249.62 L199.50,249.63 L200.50,249.63 L201.50,249.64 L202.50,249.64 L203.50,249.65 L204.50,249.65 L205.50,249.66 L206.50,249.66 L207.50,249.66 L208.50,249.67 L209.50,249.67 L210.50,249.67 L211.50,249.67 L212.50,249.68 L213.50,249.68 L214.50,249.68 L215.50,249.69 L216.50,249.69 L217.50,249.69 L218.50,249.70 L219.50,249.70 L220.50,249.70 L221.50,249.70 L222.50,249.71 L223.50,249.71 L224.50,249.71 L225.50,249.72 L226.50,249.72 L227.50,249.72 L228.50,249.72 L229.50,249.73 L230.50,249.73 L231.50,249.73 L232.50,249.73 L233.50,249.74 L234.50,249.74 L235.50,249.74 L236.50,249.74 L237.50,249.74 L238.50,249.75 L239.50,249.75 L240.50,249.75 L241.50,249.75 L242.50,249.75 L243.50,249.76 L244.50,249.76 L245.50,249.76 L246.50,249.76 L247.50,249.76 L248.50,249.76 L249.50,249.77 L250.50,249.77 L251.50,249.77 L252.50,249.77 L253.50,249.77 L254.50,249.77 L255.50,249.78 L256.50,249.78 L257.50,249.78 L258.50,249.78 L259.50,249.78 L260.50,249.78 L261.50,249.79 L262.50,249.79 L263.50,249.79 L264.50,249.79 L265.50,249.79 L266.50,249.80 L267.50,249.80 L268.50,249.80 L269.50,249.80" fill="none" stroke="#ff1c1c" stroke-width="0.95" stroke-linejoin="round"/>
<path d="M56.50,355.80 L57.03,355.84 L57.65,355.89 L58.35,355.94 L59.12,356.00 L59.96,356.06 L60.85,356.13 L61.80,356.20 L62.80,356.27 L63.83,356.35 L64.90,356.43 L66.00,356.51 L67.12,356.59 L68.26,356.68 L69.41,356.77 L70.56,356.85 L71.70,356.94 L72.84,357.03 L73.96,357.11 L75.06,357.20 L76.13,357.28 L77.17,357.37 L78.16,357.45 L79.11,357.53 L80.00,357.60 L81.08,357.69 L82.15,357.79 L83.21,357.88 L84.24,357.98 L85.26,358.07 L86.27,358.17 L87.26,358.26 L88.24,358.36 L89.20,358.45 L90.15,358.55 L91.08,358.64 L91.99,358.73 L92.90,358.82 L93.78,358.91 L94.65,358.99 L95.51,359.07 L96.36,359.15 L97.19,359.23 L98.00,359.30 L99.15,359.41 L100.25,359.52 L101.29,359.63 L102.30,359.74 L103.28,359.85 L104.22,359.96 L105.15,360.05 L106.06,360.14 L106.97,360.21 L107.88,360.26 L108.80,360.30 L109.74,360.31 L110.70,360.30 L111.68,360.26 L112.67,360.20 L113.67,360.11 L114.67,360.01 L115.67,359.89 L116.67,359.75 L117.66,359.61 L118.64,359.46 L119.61,359.30 L120.57,359.14 L121.50,358.99 L122.41,358.84 L123.30,358.70 L124.32,358.54 L125.32,358.38 L126.30,358.21 L127.26,358.04 L128.20,357.87 L129.12,357.70 L130.02,357.53 L130.89,357.35 L131.75,357.17 L132.59,356.99 L133.40,356.80 L134.47,356.54 L135.48,356.29 L136.43,356.02 L137.36,355.76 L138.26,355.48 L139.16,355.20 L140.07,354.91 L141.00,354.60 L141.95,354.29 L142.90,353.98 L143.85,353.67 L144.80,353.34 L145.75,353.00 L146.70,352.63 L147.65,352.24 L148.60,351.80 L149.53,351.33 L150.44,350.84 L151.34,350.32 L152.24,349.77 L153.17,349.19 L154.12,348.59 L155.13,347.96 L156.20,347.30 L157.02,346.79 L157.88,346.26 L158.77,345.71 L159.69,345.14 L160.62,344.56 L161.57,343.97 L162.52,343.37 L163.48,342.77 L164.43,342.17 L165.37,341.58 L166.30,341.00 L167.23,340.42 L168.17,339.83 L169.12,339.23 L170.08,338.63 L171.03,338.03 L171.98,337.44 L172.91,336.85 L173.83,336.28 L174.72,335.73 L175.58,335.20 L176.40,334.70 L177.48,334.05 L178.51,333.45 L179.49,332.88 L180.44,332.34 L181.36,331.82 L182.25,331.31 L183.13,330.81 L184.00,330.30 L184.97,329.72 L185.89,329.15 L186.79,328.60 L187.66,328.06 L188.53,327.52 L189.41,327.01 L190.30,326.50 L191.21,326.01 L192.12,325.54 L193.04,325.09 L193.96,324.64 L194.88,324.20 L195.79,323.75 L196.70,323.30 L197.61,322.82 L198.51,322.31 L199.41,321.79 L200.31,321.29 L201.20,320.82 L202.10,320.42 L203.00,320.10 L203.90,319.88 L204.80,319.73 L205.70,319.65 L206.60,319.61 L207.50,319.58 L208.40,319.55 L209.30,319.50 L210.20,319.43 L211.10,319.37 L211.99,319.31 L212.89,319.26 L213.79,319.21 L214.69,319.16 L215.60,319.10 L216.52,319.03 L217.46,318.94 L218.41,318.84 L219.35,318.76 L220.27,318.70 L221.16,318.67 L222.00,318.70 L222.90,318.80 L223.72,318.96 L224.51,319.17 L225.29,319.40 L226.11,319.65 L227.00,319.90 L227.83,320.11 L228.70,320.34 L229.60,320.57 L230.52,320.82 L231.45,321.07 L232.38,321.33 L233.30,321.60 L234.21,321.88 L235.12,322.16 L236.04,322.45 L236.96,322.75 L237.88,323.06 L238.79,323.38 L239.70,323.70 L240.61,324.03 L241.51,324.38 L242.41,324.73 L243.31,325.09 L244.20,325.45 L245.10,325.82 L246.00,326.20 L246.90,326.59 L247.80,326.99 L248.70,327.39 L249.60,327.81 L250.50,328.21 L251.40,328.61 L252.30,329.00 L253.20,329.38 L254.10,329.74 L254.99,330.11 L255.89,330.47 L256.79,330.82 L257.69,331.16 L258.60,331.50 L259.53,331.84 L260.48,332.18 L261.44,332.52 L262.38,332.84 L263.31,333.15 L264.18,333.44 L265.00,333.70 L266.09,334.02 L267.15,334.31 L268.12,334.55 L268.92,334.75 L269.50,334.90" fill="none" stroke="#1414cc" stroke-width="0.95" stroke-linejoin="round"/>
<path d="M56.50,355.80 L57.03,355.83 L57.65,355.86 L58.35,355.89 L59.12,355.93 L59.96,355.97 L60.85,356.02 L61.80,356.07 L62.80,356.11 L63.83,356.17 L64.90,356.22 L66.00,356.28 L67.12,356.33 L68.26,356.39 L69.41,356.45 L70.56,356.50 L71.70,356.56 L72.84,356.62 L73.96,356.68 L75.06,356.74 L76.13,356.79 L77.17,356.85 L78.16,356.90 L79.11,356.95 L80.00,357.00 L81.08,357.06 L82.15,357.12 L83.21,357.19 L84.24,357.25 L85.26,357.31 L86.27,357.38 L87.26,357.44 L88.24,357.51 L89.20,357.57 L90.15,357.63 L91.08,357.69 L91.99,357.75 L92.90,357.81 L93.78,357.86 L94.65,357.92 L95.51,357.97 L96.36,358.01 L97.19,358.06 L98.00,358.10 L99.15,358.16 L100.25,358.21 L101.29,358.27 L102.30,358.32 L103.28,358.37 L104.22,358.41 L105.15,358.45 L106.06,358.48 L106.97,358.50 L107.88,358.52 L108.80,358.52 L109.74,358.52 L110.70,358.50 L111.68,358.47 L112.67,358.43 L113.67,358.38 L114.67,358.32 L115.67,358.25 L116.67,358.17 L117.66,358.09 L118.64,358.00 L119.61,357.91 L120.57,357.81 L121.50,357.71 L122.41,357.60 L123.30,357.50 L124.32,357.37 L125.32,357.24 L126.30,357.09 L127.26,356.94 L128.20,356.79 L129.12,356.63 L130.02,356.46 L130.89,356.30 L131.75,356.13 L132.59,355.96 L133.40,355.80 L134.47,355.58 L135.48,355.35 L136.43,355.12 L137.36,354.89 L138.26,354.66 L139.16,354.41 L140.07,354.16 L141.00,353.90 L141.95,353.63 L142.90,353.36 L143.85,353.08 L144.80,352.80 L145.75,352.50 L146.70,352.19 L147.65,351.86 L148.60,351.50 L149.53,351.12 L150.44,350.72 L151.34,350.29 L152.24,349.86 L153.17,349.40 L154.12,348.94 L155.13,348.47 L156.20,348.00 L157.02,347.65 L157.88,347.29 L158.77,346.92 L159.69,346.54 L160.62,346.16 L161.57,345.78 L162.52,345.39 L163.48,345.01 L164.43,344.64 L165.37,344.26 L166.30,343.90 L167.23,343.54 L168.17,343.18 L169.12,342.82 L170.08,342.46 L171.03,342.10 L171.98,341.75 L172.91,341.40 L173.83,341.06 L174.72,340.73 L175.58,340.41 L176.40,340.10 L177.48,339.69 L178.51,339.29 L179.49,338.90 L180.44,338.53 L181.36,338.17 L182.25,337.83 L183.13,337.51 L184.00,337.20 L184.97,336.87 L185.89,336.56 L186.79,336.28 L187.66,336.01 L188.53,335.76 L189.41,335.53 L190.30,335.30 L191.21,335.09 L192.12,334.90 L193.04,334.72 L193.96,334.56 L194.88,334.40 L195.79,334.25 L196.70,334.10 L197.61,333.95 L198.51,333.79 L199.41,333.65 L200.31,333.51 L201.20,333.38 L202.10,333.28 L203.00,333.20 L203.90,333.15 L204.80,333.13 L205.70,333.13 L206.60,333.14 L207.50,333.16 L208.40,333.18 L209.30,333.20 L210.20,333.21 L211.10,333.23 L211.99,333.25 L212.89,333.27 L213.79,333.30 L214.69,333.34 L215.60,333.40 L216.52,333.48 L217.46,333.58 L218.41,333.69 L219.35,333.80 L220.27,333.91 L221.16,334.02 L222.00,334.10 L222.83,334.15 L223.49,334.14 L224.11,334.13 L224.81,334.14 L225.74,334.22 L227.00,334.40 L227.72,334.52 L228.53,334.67 L229.41,334.84 L230.34,335.03 L231.33,335.23 L232.35,335.44 L233.40,335.66 L234.47,335.89 L235.55,336.12 L236.62,336.35 L237.67,336.57 L238.71,336.79 L239.70,337.00 L240.67,337.20 L241.64,337.41 L242.61,337.62 L243.58,337.83 L244.55,338.04 L245.52,338.25 L246.48,338.45 L247.45,338.66 L248.42,338.87 L249.39,339.08 L250.36,339.29 L251.33,339.50 L252.30,339.70 L253.30,339.91 L254.33,340.13 L255.39,340.35 L256.47,340.57 L257.55,340.80 L258.63,341.02 L259.68,341.24 L260.71,341.45 L261.69,341.65 L262.63,341.84 L263.50,342.01 L264.29,342.17 L265.00,342.30 L266.50,342.56 L267.61,342.71 L268.42,342.80 L269.02,342.85 L269.50,342.90" fill="none" stroke="#0cae0c" stroke-width="0.95" stroke-linejoin="round"/>
<path d="M56.50,355.80 L57.03,355.82 L57.65,355.84 L58.35,355.86 L59.12,355.89 L59.96,355.91 L60.85,355.94 L61.80,355.97 L62.80,356.00 L63.83,356.04 L64.90,356.07 L66.00,356.11 L67.12,356.14 L68.26,356.18 L69.41,356.22 L70.56,356.26 L71.70,356.30 L72.84,356.34 L73.96,356.37 L75.06,356.41 L76.13,356.45 L77.17,356.49 L78.16,356.53 L79.11,356.56 L80.00,356.60 L81.08,356.65 L82.15,356.69 L83.21,356.75 L84.24,356.80 L85.26,356.85 L86.27,356.91 L87.26,356.96 L88.24,357.02 L89.20,357.07 L90.15,357.13 L91.08,357.18 L91.99,357.23 L92.90,357.28 L93.78,357.32 L94.65,357.37 L95.51,357.41 L96.36,357.44 L97.19,357.47 L98.00,357.50 L99.15,357.53 L100.25,357.56 L101.29,357.58 L102.30,357.60 L103.28,357.61 L104.22,357.61 L105.15,357.61 L106.06,357.61 L106.97,357.60 L107.88,357.58 L108.80,357.56 L109.74,357.53 L110.70,357.50 L111.68,357.46 L112.67,357.42 L113.67,357.36 L114.67,357.30 L115.67,357.24 L116.67,357.17 L117.66,357.09 L118.64,357.02 L119.61,356.94 L120.57,356.85 L121.50,356.77 L122.41,356.68 L123.30,356.60 L124.32,356.50 L125.32,356.39 L126.30,356.29 L127.26,356.18 L128.20,356.06 L129.12,355.95 L130.02,355.83 L130.89,355.70 L131.75,355.57 L132.59,355.44 L133.40,355.30 L134.47,355.10 L135.48,354.88 L136.43,354.65 L137.36,354.41 L138.26,354.18 L139.16,353.94 L140.07,353.71 L141.00,353.50 L141.95,353.30 L142.90,353.12 L143.85,352.94 L144.80,352.77 L145.75,352.59 L146.70,352.41 L147.65,352.21 L148.60,352.00 L149.53,351.77 L150.44,351.53 L151.34,351.28 L152.24,351.02 L153.17,350.75 L154.12,350.47 L155.13,350.19 L156.20,349.90 L157.02,349.68 L157.88,349.46 L158.77,349.22 L159.69,348.99 L160.62,348.75 L161.57,348.50 L162.52,348.26 L163.48,348.02 L164.43,347.77 L165.37,347.53 L166.30,347.30 L167.23,347.07 L168.17,346.83 L169.12,346.59 L170.08,346.35 L171.03,346.11 L171.98,345.87 L172.91,345.64 L173.83,345.41 L174.72,345.20 L175.58,344.99 L176.40,344.80 L177.48,344.55 L178.51,344.33 L179.49,344.12 L180.44,343.92 L181.36,343.73 L182.25,343.55 L183.13,343.37 L184.00,343.20 L184.97,343.01 L185.89,342.82 L186.79,342.65 L187.66,342.48 L188.53,342.32 L189.41,342.16 L190.30,342.00 L191.21,341.85 L192.12,341.70 L193.04,341.55 L193.96,341.41 L194.88,341.27 L195.79,341.14 L196.70,341.00 L197.61,340.86 L198.51,340.71 L199.41,340.56 L200.31,340.42 L201.20,340.29 L202.10,340.18 L203.00,340.10 L203.90,340.05 L204.80,340.02 L205.70,340.01 L206.60,340.02 L207.50,340.04 L208.40,340.07 L209.30,340.10 L210.20,340.15 L211.10,340.21 L211.99,340.28 L212.89,340.37 L213.79,340.45 L214.69,340.53 L215.60,340.60 L216.52,340.66 L217.46,340.72 L218.41,340.78 L219.35,340.83 L220.27,340.89 L221.16,340.94 L222.00,341.00 L222.83,341.05 L223.49,341.09 L224.11,341.13 L224.81,341.19 L225.74,341.27 L227.00,341.40 L227.72,341.48 L228.53,341.57 L229.41,341.66 L230.34,341.77 L231.33,341.88 L232.35,342.00 L233.40,342.12 L234.47,342.24 L235.55,342.37 L236.62,342.50 L237.67,342.64 L238.71,342.77 L239.70,342.90 L240.67,343.03 L241.64,343.17 L242.61,343.32 L243.58,343.47 L244.55,343.62 L245.52,343.77 L246.48,343.93 L247.45,344.08 L248.42,344.23 L249.39,344.38 L250.36,344.53 L251.33,344.67 L252.30,344.80 L253.30,344.93 L254.33,345.06 L255.39,345.19 L256.47,345.32 L257.55,345.44 L258.63,345.56 L259.68,345.68 L260.71,345.80 L261.69,345.91 L262.63,346.02 L263.50,346.12 L264.29,346.21 L265.00,346.30 L266.50,346.50 L267.61,346.67 L268.42,346.81 L269.02,346.92 L269.50,347.00" fill="none" stroke="#ff1c1c" stroke-width="0.95" stroke-linejoin="round"/>
<path d="M56.50,306.63 L57.50,306.54 L58.50,305.97 L59.50,305.98 L60.50,306.09 L61.50,305.81 L62.50,305.85 L63.50,305.79 L64.50,305.70 L65.50,305.57 L66.50,305.59 L67.50,305.72 L68.50,305.24 L69.50,305.34 L70.50,305.10 L71.50,304.93 L72.50,304.46 L73.50,304.49 L74.50,304.77 L75.50,304.36 L76.50,303.96 L77.50,303.82 L78.50,304.18 L79.50,304.83 L80.50,304.88 L81.50,305.03 L82.50,304.76 L83.50,304.91 L84.50,304.61 L85.50,304.65 L86.50,304.45 L87.50,304.27 L88.50,304.31 L89.50,304.17 L90.50,304.46 L91.50,304.34 L92.50,304.29 L93.50,304.07 L94.50,304.27 L95.50,303.90 L96.50,303.97 L97.50,303.74 L98.50,303.43 L99.50,303.29 L100.50,303.03 L101.50,302.91 L102.50,302.71 L103.50,302.68 L104.50,302.70 L105.50,302.56 L106.50,302.53 L107.50,302.61 L108.50,302.49 L109.50,302.70 L110.50,302.84 L111.50,302.76 L112.50,303.21 L113.50,303.11 L114.50,302.84 L115.50,302.66 L116.50,302.60 L117.50,302.51 L118.50,302.82 L119.50,302.58 L120.50,302.59 L121.50,302.49 L122.50,302.77 L123.50,302.37 L124.50,302.37 L125.50,302.41 L126.50,302.49 L127.50,302.51 L128.50,302.29 L129.50,302.34 L130.50,302.03 L131.50,302.09 L132.50,300.96 L133.50,300.57 L134.50,299.76 L135.50,299.09 L136.50,299.04 L137.50,298.60 L138.50,297.07 L139.50,296.33 L140.50,295.81 L141.50,294.86 L142.50,294.62 L143.50,294.37 L144.50,293.99 L145.50,293.10 L146.50,293.11 L147.50,292.71 L148.50,292.23 L149.50,291.63 L150.50,291.44 L151.50,291.17 L152.50,290.52 L153.50,290.11 L154.50,289.86 L155.50,288.92 L156.50,288.70 L157.50,287.95 L158.50,287.59 L159.50,287.51 L160.50,287.14 L161.50,286.70 L162.50,286.31 L163.50,286.16 L164.50,285.85 L165.50,285.16 L166.50,284.85 L167.50,284.31 L168.50,284.45 L169.50,283.61 L170.50,283.07 L171.50,282.57 L172.50,282.08 L173.50,281.75 L174.50,281.41 L175.50,280.62 L176.50,280.27 L177.50,279.76 L178.50,279.88 L179.50,280.04 L180.50,279.73 L181.50,279.21 L182.50,278.94 L183.50,278.48 L184.50,278.44 L185.50,278.06 L186.50,277.55 L187.50,276.98 L188.50,276.68 L189.50,276.62 L190.50,276.15 L191.50,276.03 L192.50,276.20 L193.50,275.90 L194.50,276.12 L195.50,276.11 L196.50,275.72 L197.50,275.29 L198.50,275.35 L199.50,275.29 L200.50,275.44 L201.50,275.79 L202.50,275.37 L203.50,275.32 L204.50,275.46 L205.50,275.71 L206.50,275.70 L207.50,275.68 L208.50,275.88 L209.50,275.81 L210.50,275.63 L211.50,275.64 L212.50,275.51 L213.50,275.76 L214.50,275.99 L215.50,275.28 L216.50,275.81 L217.50,275.63 L218.50,275.38 L219.50,275.04 L220.50,274.85 L221.50,275.62 L222.50,276.28 L223.50,276.53 L224.50,276.98 L225.50,277.16 L226.50,277.12 L227.50,277.74 L228.50,278.29 L229.50,278.58 L230.50,278.57 L231.50,278.80 L232.50,279.22 L233.50,279.58 L234.50,279.98 L235.50,280.03 L236.50,279.95 L237.50,280.21 L238.50,280.74 L239.50,281.19 L240.50,281.89 L241.50,281.93 L242.50,282.13 L243.50,282.29 L244.50,282.48 L245.50,282.98 L246.50,283.30 L247.50,283.49 L248.50,283.55 L249.50,283.93 L250.50,284.22 L251.50,284.86 L252.50,285.26 L253.50,285.17 L254.50,285.74 L255.50,285.79 L256.50,286.10 L257.50,286.63 L258.50,286.54 L259.50,286.89 L260.50,286.92 L261.50,286.90 L262.50,287.66 L263.50,287.96 L264.50,288.07 L265.50,288.10 L266.50,288.52 L267.50,289.25 L268.50,289.56 L269.50,289.70" fill="none" stroke="#1414cc" stroke-width="0.95" stroke-linejoin="round"/>
<path d="M56.50,307.54 L57.50,307.18 L58.50,306.91 L59.50,306.26 L60.50,306.47 L61.50,306.47 L62.50,306.38 L63.50,306.49 L64.50,306.53 L65.50,306.21 L66.50,306.06 L67.50,306.06 L68.50,306.30 L69.50,306.39 L70.50,306.02 L71.50,305.88 L72.50,306.21 L73.50,306.56 L74.50,306.39 L75.50,306.17 L76.50,306.45 L77.50,306.29 L78.50,306.45 L79.50,306.71 L80.50,306.65 L81.50,306.51 L82.50,306.60 L83.50,306.36 L84.50,306.36 L85.50,306.29 L86.50,306.35 L87.50,306.34 L88.50,306.42 L89.50,306.44 L90.50,306.56 L91.50,306.64 L92.50,306.74 L93.50,307.05 L94.50,306.57 L95.50,306.96 L96.50,306.83 L97.50,306.55 L98.50,306.65 L99.50,306.79 L100.50,307.10 L101.50,306.81 L102.50,306.92 L103.50,306.90 L104.50,306.41 L105.50,306.14 L106.50,306.24 L107.50,306.16 L108.50,306.02 L109.50,305.64 L110.50,305.20 L111.50,304.63 L112.50,304.23 L113.50,303.15 L114.50,302.36 L115.50,301.62 L116.50,300.34 L117.50,299.92 L118.50,298.97 L119.50,298.43 L120.50,298.42 L121.50,297.55 L122.50,296.96 L123.50,296.90 L124.50,296.08 L125.50,295.60 L126.50,295.36 L127.50,295.03 L128.50,294.71 L129.50,294.31 L130.50,294.16 L131.50,293.86 L132.50,293.47 L133.50,292.84 L134.50,292.36 L135.50,291.69 L136.50,291.72 L137.50,290.96 L138.50,290.92 L139.50,290.93 L140.50,290.14 L141.50,289.66 L142.50,289.30 L143.50,289.24 L144.50,288.68 L145.50,288.39 L146.50,288.00 L147.50,287.71 L148.50,287.73 L149.50,287.10 L150.50,286.85 L151.50,286.61 L152.50,286.47 L153.50,285.79 L154.50,285.82 L155.50,285.54 L156.50,285.35 L157.50,284.94 L158.50,284.23 L159.50,283.95 L160.50,283.99 L161.50,283.70 L162.50,283.41 L163.50,283.53 L164.50,283.54 L165.50,282.94 L166.50,282.93 L167.50,281.95 L168.50,281.32 L169.50,281.52 L170.50,281.24 L171.50,281.17 L172.50,281.00 L173.50,280.66 L174.50,280.54 L175.50,280.24 L176.50,279.61 L177.50,279.56 L178.50,279.41 L179.50,279.58 L180.50,278.92 L181.50,278.74 L182.50,278.48 L183.50,278.32 L184.50,278.51 L185.50,278.21 L186.50,277.74 L187.50,277.53 L188.50,277.46 L189.50,276.97 L190.50,276.81 L191.50,277.09 L192.50,277.04 L193.50,276.78 L194.50,276.53 L195.50,276.45 L196.50,276.09 L197.50,276.43 L198.50,276.46 L199.50,276.43 L200.50,276.11 L201.50,276.09 L202.50,276.36 L203.50,276.47 L204.50,276.39 L205.50,276.61 L206.50,276.86 L207.50,276.69 L208.50,276.69 L209.50,276.68 L210.50,276.67 L211.50,277.15 L212.50,277.40 L213.50,277.55 L214.50,277.36 L215.50,277.36 L216.50,277.65 L217.50,277.79 L218.50,278.06 L219.50,278.10 L220.50,278.50 L221.50,279.04 L222.50,279.34 L223.50,279.60 L224.50,279.48 L225.50,279.70 L226.50,279.61 L227.50,279.94 L228.50,279.91 L229.50,279.96 L230.50,280.05 L231.50,280.47 L232.50,280.68 L233.50,280.86 L234.50,280.76 L235.50,281.08 L236.50,280.98 L237.50,281.66 L238.50,281.73 L239.50,281.93 L240.50,282.05 L241.50,281.87 L242.50,281.91 L243.50,282.30 L244.50,282.90 L245.50,282.72 L246.50,282.80 L247.50,283.06 L248.50,282.92 L249.50,282.93 L250.50,283.30 L251.50,283.66 L252.50,283.85 L253.50,284.46 L254.50,284.49 L255.50,284.71 L256.50,285.19 L257.50,285.55 L258.50,285.11 L259.50,285.26 L260.50,285.76 L261.50,285.57 L262.50,285.67 L263.50,285.75 L264.50,285.88 L265.50,286.12 L266.50,286.65 L267.50,287.31 L268.50,287.88 L269.50,288.01" fill="none" stroke="#0cae0c" stroke-width="0.95" stroke-linejoin="round"/>
<path d="M56.50,308.02 L57.50,308.12 L58.50,308.53 L59.50,308.46 L60.50,309.08 L61.50,308.99 L62.50,309.32 L63.50,309.41 L64.50,309.21 L65.50,309.78 L66.50,309.18 L67.50,309.01 L68.50,308.95 L69.50,308.31 L70.50,308.41 L71.50,308.01 L72.50,307.93 L73.50,307.36 L74.50,306.93 L75.50,307.10 L76.50,306.93 L77.50,306.65 L78.50,306.50 L79.50,306.25 L80.50,305.59 L81.50,304.84 L82.50,304.38 L83.50,303.91 L84.50,303.37 L85.50,303.22 L86.50,302.95 L87.50,302.70 L88.50,302.40 L89.50,301.89 L90.50,301.42 L91.50,301.01 L92.50,300.32 L93.50,299.76 L94.50,299.33 L95.50,298.64 L96.50,298.01 L97.50,297.53 L98.50,297.37 L99.50,296.83 L100.50,296.19 L101.50,295.59 L102.50,295.18 L103.50,295.28 L104.50,293.96 L105.50,293.91 L106.50,293.63 L107.50,293.45 L108.50,292.75 L109.50,292.96 L110.50,292.67 L111.50,292.16 L112.50,291.84 L113.50,291.39 L114.50,291.22 L115.50,290.99 L116.50,290.99 L117.50,290.75 L118.50,290.42 L119.50,290.31 L120.50,290.11 L121.50,289.84 L122.50,289.21 L123.50,289.36 L124.50,288.85 L125.50,288.54 L126.50,288.49 L127.50,288.51 L128.50,288.62 L129.50,287.91 L130.50,288.15 L131.50,288.21 L132.50,287.70 L133.50,287.41 L134.50,287.09 L135.50,286.81 L136.50,286.41 L137.50,285.99 L138.50,285.96 L139.50,285.93 L140.50,286.15 L141.50,285.55 L142.50,284.91 L143.50,284.96 L144.50,284.76 L145.50,284.73 L146.50,284.45 L147.50,284.02 L148.50,283.83 L149.50,283.95 L150.50,283.80 L151.50,283.36 L152.50,283.44 L153.50,282.88 L154.50,282.70 L155.50,282.67 L156.50,282.23 L157.50,281.95 L158.50,281.98 L159.50,281.89 L160.50,281.71 L161.50,281.47 L162.50,281.14 L163.50,280.96 L164.50,281.61 L165.50,281.05 L166.50,281.15 L167.50,280.66 L168.50,280.75 L169.50,280.68 L170.50,280.39 L171.50,279.92 L172.50,279.45 L173.50,279.63 L174.50,279.16 L175.50,278.84 L176.50,279.21 L177.50,279.30 L178.50,278.97 L179.50,278.68 L180.50,278.40 L181.50,278.46 L182.50,278.31 L183.50,277.97 L184.50,277.89 L185.50,277.98 L186.50,277.54 L187.50,277.38 L188.50,277.47 L189.50,277.82 L190.50,277.63 L191.50,277.50 L192.50,277.84 L193.50,277.36 L194.50,277.20 L195.50,277.46 L196.50,277.65 L197.50,277.63 L198.50,276.97 L199.50,277.40 L200.50,277.63 L201.50,277.65 L202.50,277.84 L203.50,278.14 L204.50,278.07 L205.50,277.89 L206.50,277.67 L207.50,278.06 L208.50,278.16 L209.50,278.33 L210.50,278.38 L211.50,278.79 L212.50,279.18 L213.50,279.40 L214.50,279.25 L215.50,279.69 L216.50,279.87 L217.50,279.43 L218.50,279.96 L219.50,279.75 L220.50,279.92 L221.50,280.57 L222.50,280.89 L223.50,280.85 L224.50,280.87 L225.50,281.22 L226.50,281.01 L227.50,281.46 L228.50,281.61 L229.50,281.97 L230.50,282.04 L231.50,281.94 L232.50,282.23 L233.50,282.33 L234.50,282.22 L235.50,282.30 L236.50,282.45 L237.50,282.83 L238.50,283.26 L239.50,283.39 L240.50,283.29 L241.50,283.52 L242.50,283.95 L243.50,284.37 L244.50,284.25 L245.50,284.57 L246.50,284.68 L247.50,284.46 L248.50,284.64 L249.50,284.99 L250.50,285.26 L251.50,285.52 L252.50,285.68 L253.50,286.06 L254.50,286.05 L255.50,285.98 L256.50,286.49 L257.50,286.58 L258.50,287.00 L259.50,286.94 L260.50,287.44 L261.50,287.21 L262.50,287.17 L263.50,287.62 L264.50,288.13 L265.50,287.84 L266.50,288.21 L267.50,288.30 L268.50,288.04 L269.50,287.56" fill="none" stroke="#ff1c1c" stroke-width="0.95" stroke-linejoin="round"/>
<path d="M56.50,391.49 L57.50,391.27 L58.50,391.43 L59.50,390.07 L60.50,390.77 L61.50,391.97 L62.50,392.51 L63.50,391.72 L64.50,393.51 L65.50,395.16 L66.50,395.23 L67.50,394.26 L68.50,394.54 L69.50,395.23 L70.50,395.73 L71.50,396.36 L72.50,395.70 L73.50,396.17 L74.50,397.09 L75.50,397.84 L76.50,397.53 L77.50,395.15 L78.50,398.20 L79.50,400.06 L80.50,400.29 L81.50,399.49 L82.50,398.71 L83.50,398.84 L84.50,398.90 L85.50,398.37 L86.50,399.63 L87.50,399.16 L88.50,399.73 L89.50,399.93 L90.50,398.62 L91.50,398.69 L92.50,400.40 L93.50,399.79 L94.50,400.96 L95.50,400.49 L96.50,401.37 L97.50,402.29 L98.50,401.59 L99.50,401.71 L100.50,401.39 L101.50,402.08 L102.50,402.72 L103.50,403.62 L104.50,403.99 L105.50,404.47 L106.50,404.21 L107.50,402.59 L108.50,403.76 L109.50,404.34 L110.50,405.03 L111.50,405.60 L112.50,404.90 L113.50,405.94 L114.50,404.57 L115.50,403.89 L116.50,403.89 L117.50,405.21 L118.50,404.56 L119.50,404.12 L120.50,404.71 L121.50,402.49 L122.50,403.02 L123.50,401.13 L124.50,399.86 L125.50,397.30 L126.50,396.68 L127.50,395.29 L128.50,393.66 L129.50,391.49 L130.50,387.91 L131.50,386.30 L132.50,384.98 L133.50,384.65 L134.50,384.39 L135.50,383.91 L136.50,383.56 L137.50,384.29 L138.50,384.10 L139.50,384.69 L140.50,384.51 L141.50,385.83 L142.50,385.22 L143.50,386.30 L144.50,384.96 L145.50,382.71 L146.50,383.18 L147.50,383.51 L148.50,383.80 L149.50,382.80 L150.50,381.52 L151.50,382.29 L152.50,383.57 L153.50,384.43 L154.50,382.70 L155.50,383.29 L156.50,383.83 L157.50,385.89 L158.50,385.48 L159.50,385.10 L160.50,385.16 L161.50,384.96 L162.50,386.43 L163.50,387.45 L164.50,385.49 L165.50,384.44 L166.50,385.07 L167.50,384.52 L168.50,383.35 L169.50,384.16 L170.50,384.50 L171.50,383.94 L172.50,385.54 L173.50,385.62 L174.50,384.79 L175.50,385.01 L176.50,384.33 L177.50,383.12 L178.50,385.14 L179.50,385.65 L180.50,385.92 L181.50,387.74 L182.50,389.73 L183.50,389.42 L184.50,390.66 L185.50,392.60 L186.50,392.37 L187.50,392.18 L188.50,392.38 L189.50,392.42 L190.50,391.57 L191.50,390.51 L192.50,390.70 L193.50,391.18 L194.50,391.12 L195.50,391.62 L196.50,391.86 L197.50,391.43 L198.50,390.08 L199.50,389.98 L200.50,390.39 L201.50,391.01 L202.50,392.47 L203.50,391.70 L204.50,392.37 L205.50,391.80 L206.50,391.51 L207.50,391.48 L208.50,390.77 L209.50,392.39 L210.50,393.83 L211.50,392.91 L212.50,392.52 L213.50,391.20 L214.50,392.38 L215.50,392.73 L216.50,394.44 L217.50,395.93 L218.50,394.72 L219.50,393.82 L220.50,392.71 L221.50,393.05 L222.50,393.54 L223.50,391.28 L224.50,392.53 L225.50,390.31 L226.50,389.70 L227.50,389.43 L228.50,391.41 L229.50,389.59 L230.50,389.30 L231.50,390.97 L232.50,391.10 L233.50,391.32 L234.50,390.96 L235.50,390.55 L236.50,391.69 L237.50,390.67 L238.50,390.01 L239.50,387.37 L240.50,389.19 L241.50,391.41 L242.50,389.36 L243.50,388.09 L244.50,389.80 L245.50,390.02 L246.50,389.70 L247.50,390.43 L248.50,391.30 L249.50,391.19 L250.50,391.41 L251.50,391.45 L252.50,391.49 L253.50,392.67 L254.50,393.95 L255.50,394.64 L256.50,392.95 L257.50,393.43 L258.50,391.84 L259.50,391.66 L260.50,391.21 L261.50,391.17 L262.50,390.89 L263.50,392.79 L264.50,393.48 L265.50,393.30 L266.50,392.39 L267.50,393.81 L268.50,393.97 L269.50,393.19" fill="none" stroke="#1414cc" stroke-width="0.95" stroke-linejoin="round"/>
<path d="M56.50,392.27 L57.50,393.32 L58.50,395.04 L59.50,394.70 L60.50,396.44 L61.50,396.00 L62.50,397.70 L63.50,398.75 L64.50,400.50 L65.50,399.55 L66.50,398.76 L67.50,399.40 L68.50,400.20 L69.50,399.77 L70.50,401.21 L71.50,400.76 L72.50,400.85 L73.50,400.74 L74.50,400.32 L75.50,401.97 L76.50,402.42 L77.50,403.19 L78.50,403.77 L79.50,403.25 L80.50,403.91 L81.50,406.02 L82.50,406.46 L83.50,404.29 L84.50,402.29 L85.50,403.10 L86.50,403.87 L87.50,404.38 L88.50,403.68 L89.50,404.06 L90.50,405.16 L91.50,405.36 L92.50,404.34 L93.50,404.73 L94.50,404.59 L95.50,404.74 L96.50,404.14 L97.50,403.46 L98.50,402.66 L99.50,403.63 L100.50,403.00 L101.50,400.69 L102.50,399.30 L103.50,397.20 L104.50,395.95 L105.50,392.94 L106.50,391.66 L107.50,390.54 L108.50,388.68 L109.50,386.76 L110.50,383.87 L111.50,382.83 L112.50,380.39 L113.50,379.42 L114.50,377.62 L115.50,378.11 L116.50,377.75 L117.50,378.12 L118.50,376.83 L119.50,375.98 L120.50,375.20 L121.50,376.09 L122.50,375.89 L123.50,376.18 L124.50,375.71 L125.50,374.23 L126.50,372.59 L127.50,376.16 L128.50,378.29 L129.50,378.56 L130.50,380.03 L131.50,381.82 L132.50,381.74 L133.50,382.18 L134.50,381.33 L135.50,380.98 L136.50,382.19 L137.50,381.44 L138.50,381.00 L139.50,383.41 L140.50,384.62 L141.50,384.98 L142.50,385.71 L143.50,385.61 L144.50,385.72 L145.50,385.54 L146.50,386.58 L147.50,386.62 L148.50,387.42 L149.50,389.11 L150.50,388.72 L151.50,388.32 L152.50,387.33 L153.50,388.67 L154.50,386.74 L155.50,387.70 L156.50,389.37 L157.50,388.45 L158.50,387.94 L159.50,388.23 L160.50,388.44 L161.50,388.83 L162.50,388.39 L163.50,389.16 L164.50,387.13 L165.50,386.16 L166.50,385.38 L167.50,386.51 L168.50,386.61 L169.50,386.66 L170.50,386.74 L171.50,385.80 L172.50,385.61 L173.50,385.89 L174.50,385.98 L175.50,385.95 L176.50,386.27 L177.50,388.14 L178.50,387.12 L179.50,388.68 L180.50,388.42 L181.50,388.67 L182.50,388.32 L183.50,389.46 L184.50,389.77 L185.50,391.40 L186.50,391.37 L187.50,390.30 L188.50,389.45 L189.50,390.35 L190.50,390.61 L191.50,390.44 L192.50,391.21 L193.50,390.20 L194.50,389.89 L195.50,391.05 L196.50,390.95 L197.50,391.22 L198.50,390.10 L199.50,390.48 L200.50,390.12 L201.50,389.25 L202.50,389.57 L203.50,389.51 L204.50,390.95 L205.50,391.28 L206.50,391.18 L207.50,392.57 L208.50,392.97 L209.50,393.55 L210.50,392.10 L211.50,392.55 L212.50,393.60 L213.50,391.26 L214.50,391.62 L215.50,389.43 L216.50,389.29 L217.50,389.56 L218.50,390.00 L219.50,391.23 L220.50,390.84 L221.50,392.10 L222.50,392.87 L223.50,392.70 L224.50,392.37 L225.50,392.24 L226.50,392.06 L227.50,392.55 L228.50,393.29 L229.50,393.30 L230.50,391.64 L231.50,391.31 L232.50,390.07 L233.50,391.31 L234.50,392.89 L235.50,391.14 L236.50,389.12 L237.50,388.50 L238.50,390.51 L239.50,392.84 L240.50,390.59 L241.50,390.22 L242.50,390.41 L243.50,390.60 L244.50,390.59 L245.50,391.39 L246.50,391.95 L247.50,392.48 L248.50,391.25 L249.50,391.68 L250.50,393.09 L251.50,394.24 L252.50,395.15 L253.50,396.23 L254.50,397.50 L255.50,398.26 L256.50,398.60 L257.50,396.13 L258.50,395.34 L259.50,394.97 L260.50,396.43 L261.50,396.74 L262.50,397.05 L263.50,397.09 L264.50,399.33 L265.50,399.36 L266.50,400.31 L267.50,399.94 L268.50,401.10 L269.50,400.86" fill="none" stroke="#0cae0c" stroke-width="0.95" stroke-linejoin="round"/>
<path d="M56.50,393.45 L57.50,393.82 L58.50,396.27 L59.50,396.37 L60.50,396.67 L61.50,396.87 L62.50,398.40 L63.50,395.92 L64.50,395.09 L65.50,393.52 L66.50,392.79 L67.50,391.67 L68.50,391.60 L69.50,391.35 L70.50,389.98 L71.50,390.22 L72.50,389.16 L73.50,388.33 L74.50,387.41 L75.50,384.41 L76.50,384.71 L77.50,381.65 L78.50,380.77 L79.50,380.12 L80.50,379.45 L81.50,378.58 L82.50,377.04 L83.50,374.13 L84.50,371.34 L85.50,371.62 L86.50,372.79 L87.50,369.07 L88.50,368.81 L89.50,367.92 L90.50,366.83 L91.50,366.52 L92.50,366.22 L93.50,366.42 L94.50,366.87 L95.50,366.70 L96.50,367.93 L97.50,367.70 L98.50,368.06 L99.50,370.79 L100.50,370.50 L101.50,370.91 L102.50,369.43 L103.50,370.63 L104.50,370.99 L105.50,372.16 L106.50,373.28 L107.50,373.49 L108.50,373.26 L109.50,374.70 L110.50,375.50 L111.50,375.56 L112.50,375.34 L113.50,376.34 L114.50,375.71 L115.50,377.14 L116.50,377.49 L117.50,377.43 L118.50,378.28 L119.50,381.04 L120.50,379.46 L121.50,380.88 L122.50,381.23 L123.50,380.68 L124.50,379.32 L125.50,380.31 L126.50,381.77 L127.50,381.19 L128.50,380.23 L129.50,381.68 L130.50,384.17 L131.50,386.22 L132.50,385.87 L133.50,384.49 L134.50,383.48 L135.50,383.85 L136.50,384.40 L137.50,385.79 L138.50,386.89 L139.50,386.48 L140.50,384.50 L141.50,384.73 L142.50,385.96 L143.50,386.55 L144.50,387.50 L145.50,386.99 L146.50,388.49 L147.50,387.32 L148.50,389.40 L149.50,391.26 L150.50,392.51 L151.50,391.63 L152.50,389.56 L153.50,388.11 L154.50,388.91 L155.50,389.01 L156.50,390.80 L157.50,389.48 L158.50,389.80 L159.50,389.38 L160.50,388.79 L161.50,388.85 L162.50,388.81 L163.50,388.50 L164.50,390.73 L165.50,389.92 L166.50,390.80 L167.50,390.68 L168.50,389.62 L169.50,389.12 L170.50,387.20 L171.50,387.25 L172.50,387.88 L173.50,389.93 L174.50,390.22 L175.50,390.00 L176.50,390.56 L177.50,389.32 L178.50,389.37 L179.50,389.34 L180.50,390.25 L181.50,389.11 L182.50,390.14 L183.50,390.93 L184.50,391.27 L185.50,390.51 L186.50,388.60 L187.50,388.48 L188.50,386.81 L189.50,388.81 L190.50,388.98 L191.50,390.60 L192.50,390.27 L193.50,390.85 L194.50,389.66 L195.50,389.87 L196.50,391.02 L197.50,390.44 L198.50,391.33 L199.50,391.05 L200.50,390.96 L201.50,390.57 L202.50,392.20 L203.50,391.44 L204.50,392.70 L205.50,392.99 L206.50,392.49 L207.50,392.65 L208.50,392.27 L209.50,393.95 L210.50,392.85 L211.50,391.54 L212.50,391.64 L213.50,391.11 L214.50,391.78 L215.50,393.81 L216.50,394.69 L217.50,393.75 L218.50,394.55 L219.50,395.21 L220.50,393.98 L221.50,396.50 L222.50,397.29 L223.50,396.57 L224.50,395.20 L225.50,394.17 L226.50,395.95 L227.50,396.53 L228.50,396.91 L229.50,398.01 L230.50,396.17 L231.50,393.92 L232.50,393.92 L233.50,396.38 L234.50,397.35 L235.50,396.10 L236.50,395.44 L237.50,394.38 L238.50,394.95 L239.50,397.61 L240.50,394.61 L241.50,393.16 L242.50,392.36 L243.50,393.17 L244.50,395.24 L245.50,395.85 L246.50,394.82 L247.50,392.79 L248.50,393.72 L249.50,393.17 L250.50,392.70 L251.50,390.48 L252.50,388.55 L253.50,391.14 L254.50,391.03 L255.50,389.97 L256.50,389.56 L257.50,389.83 L258.50,387.48 L259.50,387.14 L260.50,384.72 L261.50,387.51 L262.50,386.56 L263.50,386.58 L264.50,388.50 L265.50,388.83 L266.50,388.32 L267.50,389.46 L268.50,389.72 L269.50,391.23" fill="none" stroke="#ff1c1c" stroke-width="0.95" stroke-linejoin="round"/>
<path d="M192.3,155.4 L211.1,155.4" stroke="#1414cc" stroke-width="0.95" fill="none"/>
<path d="M192.3,166.4 L211.1,166.4" stroke="#0cae0c" stroke-width="0.95" fill="none"/>
<path d="M192.3,177.4 L211.1,177.4" stroke="#ff1c1c" stroke-width="0.95" fill="none"/>
<defs><filter id="g" x="0" y="0" width="340" height="440" filterUnits="userSpaceOnUse"><feOffset dx="0" dy="0"/></filter></defs>
<g filter="url(#g)" stroke="#000" stroke-width="0.16">
<text x="216.30" y="158.60" font-size="10.00" text-anchor="start" font-family="Liberation Sans, sans-serif" fill="#000" textLength="27.70" lengthAdjust="spacingAndGlyphs" >70 mK</text>
<text x="216.70" y="169.80" font-size="10.00" text-anchor="start" font-family="Liberation Sans, sans-serif" fill="#000" textLength="33.20" lengthAdjust="spacingAndGlyphs" >110 mK</text>
<text x="216.70" y="180.70" font-size="10.00" text-anchor="start" font-family="Liberation Sans, sans-serif" fill="#000" textLength="33.20" lengthAdjust="spacingAndGlyphs" >150 mK</text>
<text x="188.30" y="121.60" font-size="10.00" text-anchor="start" font-family="Liberation Sans, sans-serif" fill="#000" textLength="76.40" lengthAdjust="spacingAndGlyphs" >(a) Longitudinal</text>
<text x="188.00" y="267.20" font-size="10.00" text-anchor="start" font-family="Liberation Sans, sans-serif" fill="#000" textLength="69.80" lengthAdjust="spacingAndGlyphs" >(b) Transverse</text>
<text x="53.40" y="119.40" font-size="10.00" text-anchor="end" font-family="Liberation Sans, sans-serif" fill="#000" >40</text>
<text x="53.40" y="137.40" font-size="10.00" text-anchor="end" font-family="Liberation Sans, sans-serif" fill="#000" >20</text>
<text x="53.40" y="155.60" font-size="10.00" text-anchor="end" font-family="Liberation Sans, sans-serif" fill="#000" >0</text>
<text x="53.40" y="167.60" font-size="10.00" text-anchor="end" font-family="Liberation Sans, sans-serif" fill="#000" >400</text>
<text x="53.40" y="186.40" font-size="10.00" text-anchor="end" font-family="Liberation Sans, sans-serif" fill="#000" >200</text>
<text x="53.40" y="205.30" font-size="10.00" text-anchor="end" font-family="Liberation Sans, sans-serif" fill="#000" >0</text>
<text x="53.40" y="217.30" font-size="10.00" text-anchor="end" font-family="Liberation Sans, sans-serif" fill="#000" >20</text>
<text x="53.40" y="235.50" font-size="10.00" text-anchor="end" font-family="Liberation Sans, sans-serif" fill="#000" >10</text>
<text x="53.40" y="253.80" font-size="10.00" text-anchor="end" font-family="Liberation Sans, sans-serif" fill="#000" >0</text>
<text x="53.40" y="272.10" font-size="10.00" text-anchor="end" font-family="Liberation Sans, sans-serif" fill="#000" >0.2</text>
<text x="53.40" y="291.30" font-size="10.00" text-anchor="end" font-family="Liberation Sans, sans-serif" fill="#000" >0.1</text>
<text x="53.40" y="310.60" font-size="10.00" text-anchor="end" font-family="Liberation Sans, sans-serif" fill="#000" >0</text>
<text x="53.40" y="334.30" font-size="10.00" text-anchor="end" font-family="Liberation Sans, sans-serif" fill="#000" >0.05</text>
<text x="53.40" y="359.80" font-size="10.00" text-anchor="end" font-family="Liberation Sans, sans-serif" fill="#000" >0.00</text>
<text x="53.40" y="381.90" font-size="10.00" text-anchor="end" font-family="Liberation Sans, sans-serif" fill="#000" >0.02</text>
<text x="53.40" y="399.40" font-size="10.00" text-anchor="end" font-family="Liberation Sans, sans-serif" fill="#000" >0.00</text>
<text x="56.60" y="420.00" font-size="10.00" text-anchor="middle" font-family="Liberation Sans, sans-serif" fill="#000" >0</text>
<text x="102.90" y="420.00" font-size="10.00" text-anchor="middle" font-family="Liberation Sans, sans-serif" fill="#000" >5</text>
<text x="149.21" y="420.00" font-size="10.00" text-anchor="middle" font-family="Liberation Sans, sans-serif" fill="#000" >10</text>
<text x="195.51" y="420.00" font-size="10.00" text-anchor="middle" font-family="Liberation Sans, sans-serif" fill="#000" >15</text>
<text x="241.82" y="420.00" font-size="10.00" text-anchor="middle" font-family="Liberation Sans, sans-serif" fill="#000" >20</text>
<text x="130.9" y="434.8" font-size="10" font-family="Liberation Sans, sans-serif" fill="#000">H<tspan dy="4.2" font-size="7">T</tspan></text>
<text x="146.00" y="434.80" font-size="10.00" text-anchor="start" font-family="Liberation Sans, sans-serif" fill="#000" textLength="26.60" lengthAdjust="spacingAndGlyphs" >(kOe)</text>
<text transform="translate(28.80,180.10) rotate(-90)" font-size="10.40" text-anchor="middle" stroke="#000" stroke-width="0.2" font-family="Liberation Sans, sans-serif" fill="#000" textLength="25.20" lengthAdjust="spacingAndGlyphs">Model</text>
<text transform="translate(24.40,342.10) rotate(-90)" font-size="9.80" text-anchor="middle" stroke="#000" stroke-width="0.2" font-family="Liberation Sans, sans-serif" fill="#000" textLength="25.30" lengthAdjust="spacingAndGlyphs">Model</text>
</g>
<path d="M21.90,133.10 L28.50,136.70" stroke="#000" stroke-width="1.2" stroke-linecap="round" fill="none"/>
<path d="M28.50,132.90 L21.90,136.90" stroke="#000" stroke-width="0.7" fill="none"/>
<path d="M28.30,132.70 L28.30,134.30 M22.30,135.80 L22.30,137.40" stroke="#000" stroke-width="0.9" fill="none"/>
<path d="M19.80,130.90 L22.30,130.90" stroke="#000" stroke-width="1.3" fill="none"/>
<path d="M20.70,223.00 L27.30,226.60" stroke="#000" stroke-width="1.2" stroke-linecap="round" fill="none"/>
<path d="M27.30,222.80 L20.70,226.80" stroke="#000" stroke-width="0.7" fill="none"/>
<path d="M27.10,222.60 L27.10,224.20 M21.10,225.70 L21.10,227.30" stroke="#000" stroke-width="0.9" fill="none"/>
<path d="M18.10,220.60 L21.00,220.60" stroke="#000" stroke-width="1.3" fill="none"/>
<path d="M18.10,218.40 L21.00,218.40" stroke="#000" stroke-width="1.3" fill="none"/>
<path d="M20.50,289.50 L27.10,293.10" stroke="#000" stroke-width="1.2" stroke-linecap="round" fill="none"/>
<path d="M27.10,289.30 L20.50,293.30" stroke="#000" stroke-width="0.7" fill="none"/>
<path d="M26.90,289.10 L26.90,290.70 M20.90,292.20 L20.90,293.80" stroke="#000" stroke-width="0.9" fill="none"/>
<path d="M18.10,287.10 L21.00,287.10" stroke="#000" stroke-width="1.3" fill="none"/>
<path d="M21.20,387.00 L27.80,390.60" stroke="#000" stroke-width="1.2" stroke-linecap="round" fill="none"/>
<path d="M27.80,386.80 L21.20,390.80" stroke="#000" stroke-width="0.7" fill="none"/>
<path d="M27.60,386.60 L27.60,388.20 M21.60,389.70 L21.60,391.30" stroke="#000" stroke-width="0.9" fill="none"/>
<path d="M18.40,384.60 L21.60,384.60" stroke="#000" stroke-width="1.3" fill="none"/>
<path d="M18.40,382.00 L21.60,382.00" stroke="#000" stroke-width="1.3" fill="none"/>
</svg>
</body></html>
